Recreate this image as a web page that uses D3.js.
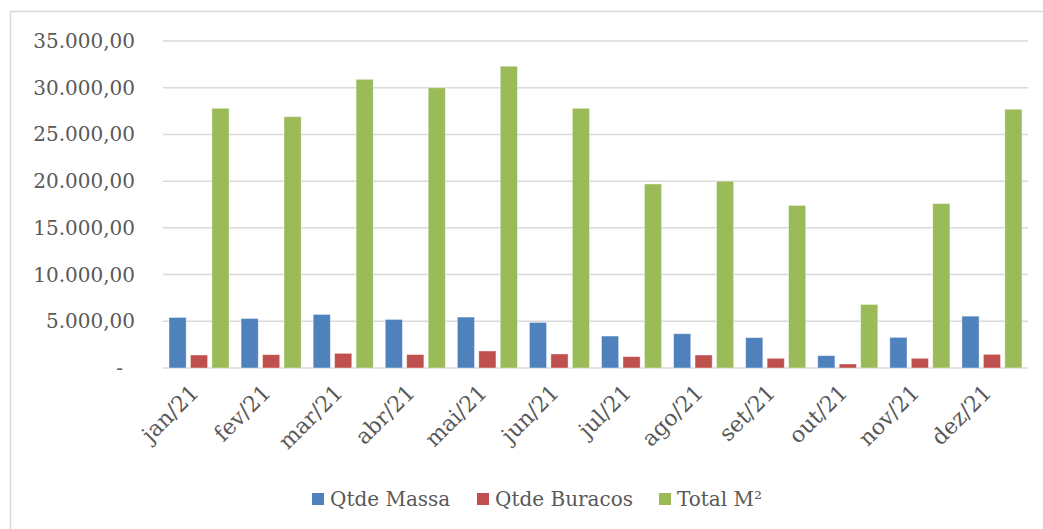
<!DOCTYPE html>
<html>
<head>
<meta charset="utf-8">
<script src="https://cdn.jsdelivr.net/npm/d3@7"></script>
<style>
  body { margin: 0; background: #fff; }
  text { font-family: "DejaVu Serif", serif; fill: #595959; }
</style>
</head>
<body>
<svg id="chart" width="1043" height="529"></svg>
<script>
// months and the three series
var months = ["jan/21", "fev/21", "mar/21", "abr/21", "mai/21", "jun/21",
              "jul/21", "ago/21", "set/21", "out/21", "nov/21", "dez/21"];
var seriesNames = ["Qtde Massa", "Qtde Buracos", "Total M²"];
var qtdeMassa   = [5410, 5300, 5730, 5200, 5450, 4880, 3420, 3670, 3250, 1320, 3280, 5550];
var qtdeBuracos = [1390, 1430, 1570, 1440, 1820, 1500, 1220, 1390, 1040, 430, 1040, 1460];
var totalM2     = [27800, 26900, 30900, 30000, 32300, 27800, 19700, 20000, 17400, 6800, 17600, 27700];
var yTicks = [0, 5000, 10000, 15000, 20000, 25000, 30000, 35000];
var colors = ["#4F81BD", "#C0504D", "#9BBB59"];

var svg = d3.select("#chart");
var margin = {left: 163, right: 15, top: 41, bottom: 161};
var width = 1043 - margin.left - margin.right,
    height = 529 - margin.top - margin.bottom;

// chart frame
svg.append("rect")
    .attr("x", 10.5).attr("y", 11.5)
    .attr("width", 1100).attr("height", 600)
    .attr("fill", "none").attr("stroke", "#D9D9D9").attr("stroke-width", 1.5);

var g = svg.append("g").attr("transform", "translate(" + margin.left + "," + margin.top + ")");

var x = d3.scaleBand().domain(months).range([0, width]).paddingInner(0).paddingOuter(0);
var x1 = d3.scaleBand().domain(seriesNames).range([6, x.bandwidth() - 6]).paddingInner(0.2);
var y = d3.scaleLinear().domain([0, 35000]).range([height, 0]);

var loc = d3.formatLocale({decimal: ",", thousands: ".", grouping: [3], currency: ["", ""]});
var fmt = loc.format(",.2f");

// gridlines
g.selectAll("line.grid")
    .data(yTicks)
    .enter().append("line")
    .attr("class", "grid")
    .attr("x1", 0).attr("x2", width)
    .attr("y1", function(d) { return y(d); })
    .attr("y2", function(d) { return y(d); })
    .attr("stroke", "#D9D9D9")
    .attr("stroke-width", 1.5);

// y labels
g.selectAll("text.ytick")
    .data(yTicks)
    .enter().append("text")
    .attr("class", "ytick")
    .attr("x", function(d) { return d === 0 ? -40 : -28; })
    .attr("y", function(d) { return y(d); })
    .attr("dy", "0.35em")
    .attr("text-anchor", "end")
    .style("font-size", "20px")
    .text(function(d) { return d === 0 ? "-" : fmt(d); });

var rows = months.map(function(m, i) {
    return {month: m, values: [qtdeMassa[i], qtdeBuracos[i], totalM2[i]]};
});

var groups = g.selectAll("g.month")
    .data(rows)
    .enter().append("g")
    .attr("class", "month")
    .attr("transform", function(d) { return "translate(" + x(d.month) + ",0)"; });

groups.selectAll("rect")
    .data(function(d) { return d.values.map(function(v, k) { return {name: seriesNames[k], value: v, k: k}; }); })
    .enter().append("rect")
    .attr("x", function(d) { return x1(d.name); })
    .attr("width", x1.bandwidth())
    .attr("y", function(d) { return y(d.value); })
    .attr("height", function(d) { return height - y(d.value); })
    .attr("fill", function(d) { return colors[d.k]; })
    .attr("stroke", "#fff")
    .attr("stroke-opacity", 0.5)
    .attr("stroke-width", 0.8);

// x labels rotated
g.selectAll("text.xtick")
    .data(months)
    .enter().append("text")
    .attr("class", "xtick")
    .attr("text-anchor", "end")
    .style("font-size", "22px")
    .attr("transform", function(d) {
        return "translate(" + (x(d) + x.bandwidth() / 2 + 1) + "," + (height + 26) + ") rotate(-45)";
    })
    .text(function(d) { return d; });

// legend
var legendX = [312, 477, 659];
var legend = svg.selectAll("g.legend")
    .data(seriesNames)
    .enter().append("g")
    .attr("class", "legend")
    .attr("transform", function(d, i) { return "translate(" + legendX[i] + ",493)"; });

legend.append("rect")
    .attr("width", 12).attr("height", 12)
    .attr("fill", function(d, i) { return colors[i]; });

legend.append("text")
    .attr("x", 18).attr("y", 6)
    .attr("dy", "0.35em")
    .style("font-size", "20px")
    .text(function(d) { return d; });
</script>
</body>
</html>
